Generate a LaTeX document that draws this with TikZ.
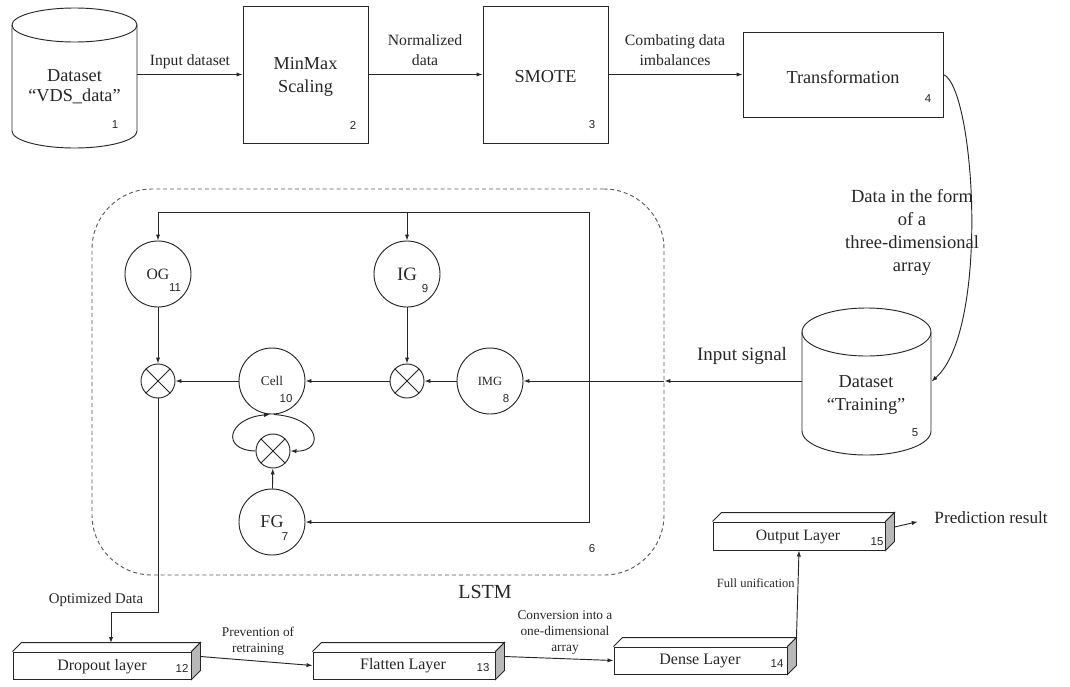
\documentclass[tikz,border=0pt]{standalone}
\usepackage{fontspec}
\setmainfont{Liberation Serif}
\newfontfamily\numfont{Liberation Sans}
\newfontfamily\txtfont{Liberation Serif}
\usetikzlibrary{arrows.meta,fit,calc}
\newcommand\fsz[2]{\txtfont\fontsize{#1}{#2}\selectfont}
\newcommand\nsz[2]{\numfont\fontsize{#1}{#2}\selectfont}
\newcommand\layerdeco[1]{%
  \draw[fill=white] (#1.north west) -- ([shift={(9,-9)}]#1.north west) -- ([shift={(9,-9)}]#1.north east) -- (#1.north east);
  \draw[fill=black!28] (#1.north east) -- ([shift={(9,-9)}]#1.north east) -- ([shift={(9,-9)}]#1.south east) -- (#1.south east) -- cycle;}
\begin{document}
\begin{tikzpicture}[x=0.75pt,y=-0.75pt,line width=0.7pt,color=black!85,
  lbl/.style={inner sep=0,align=center},
  num/.style={font=\nsz{8.6}{10},inner sep=0},
  arr/.style={-{Latex[length=4.5pt,width=3.2pt]}},
  boxn/.style={draw,inner sep=0},
  gate/.style={circle,draw,minimum size=49.5pt,inner sep=0},
  mul/.style={circle,draw,minimum size=25.5pt,inner sep=0}]
\useasboundingbox (0,0) rectangle (1070,686);

% ---- top row ----
\node[fit={(12,8)(137,148)},inner sep=0] (ds1) {};
\draw (12,25) -- (12,131) arc[start angle=180,end angle=360,x radius=46.875pt,y radius=12.75pt] -- (137,25);
\draw (74.5,25) ellipse[x radius=46.875pt,y radius=12.75pt];
\node[lbl,font=\fsz{13.7}{15}] (t1) at (74.5,87) {Dataset\\“VDS\_data”};
\node[num] (n1) at (115,125) {1};

\node[boxn,fit={(243,6)(368,143)}] (mm) {};
\node[lbl,font=\fsz{13.7}{17.25}] (t2) at (305.5,76.5) {MinMax\\Scaling};
\node[num] (n2) at (353,125) {2};

\node[boxn,fit={(483,6)(608,143)}] (sm) {};
\node[lbl,font=\fsz{13.7}{15}] (t3) at (545.5,77) {SMOTE};
\node[num] (n3) at (592,125) {3};

\node[boxn,fit={(743,32)(943,117)}] (tf) {};
\node[lbl,font=\fsz{13.7}{15}] (t4) at (843,77) {Transformation};
\node[num] (n4) at (928,99) {4};

\draw[arr] (mm.west -| ds1.east) -- (mm.west);
\node[lbl,font=\fsz{11.7}{14}] (l1) at (190,62) {Input dataset};
\draw[arr] (mm.east) -- (sm.west);
\node[lbl,font=\fsz{11.8}{15}] (l2) at (425,50) {Normalized\\data};
\draw[arr] (sm.east) -- (tf.west);
\node[lbl,font=\fsz{11.8}{15}] (l3) at (675,50) {Combating data\\imbalances};

% ---- dataset training ----
\node[fit={(802,308)(931,455)},inner sep=0] (ds5) {};
\draw (802,332) -- (802,431) arc[start angle=180,end angle=360,x radius=48.375pt,y radius=18pt] -- (931,332);
\draw (866.5,332) ellipse[x radius=48.375pt,y radius=18pt];
\node[lbl,font=\fsz{13.7}{17.25}] (t5) at (866,394.5) {Dataset\\“Training”};
\node[num] (n5) at (915,433) {5};

\draw[arr] (tf.east) .. controls (975,88) and (990,330) .. (ds5.east);
\node[lbl,font=\fsz{13.9}{17.25}] (l4) at (912,232) {Data in the form\\of a\\three-dimensional\\array};

% ---- LSTM ----
\node[fit={(92,189)(664,575)},draw=black!65,dash pattern=on 3pt off 2.2pt,rounded corners=45pt,inner sep=0] (lstm) {};
\node[lbl,font=\fsz{15}{17}] (tl) at (485,592) {LSTM};
\node[num] (n6) at (592,549) {6};

\node[gate,font=\fsz{11.8}{13}] (og) at (158,274) {OG};
\node[num] (n11) at (175,288) {11};
\node[gate,font=\fsz{14.2}{16}] (ig) at (407,274) {IG};
\node[num] (n9) at (425,289) {9};
\node[gate,font=\fsz{10}{12}] (cell) at (272,381) {Cell};
\node[num] (n10) at (286,399) {10};
\node[gate,font=\fsz{9.4}{11}] (img) at (490,381) {IMG};
\node[num] (n8) at (506,399) {8};
\node[gate,font=\fsz{13.5}{15}] (fg) at (272,522) {FG};
\node[num] (n7) at (285,537) {7};

\node[mul] (m1) at (158,381) {};
\node[mul] (m2) at (407,381) {};
\node[mul] (m3) at (273,451) {};
\foreach \m in {m1,m2,m3}{
  \draw (\m.45) -- (\m.225) (\m.135) -- (\m.315);}

\coordinate (ctop) at (589,212);
\coordinate (cbot) at (589,522);
\draw[arr] (ctop) -- (og.north |- ctop) -- (og.north);
\draw[arr] (ig.north |- ctop) -- (ig.north);
\draw[arr] (ctop) -- (cbot) -- (fg.east);

\coordinate (lin) at (lstm.east |- img.east);
\draw[arr] (ds5.west |- img.east) -- (lin);
\draw[arr] (lin) -- (img.east);
\node[lbl,font=\fsz{14.2}{16}] (l5) at (742,356) {Input signal};

\draw[arr] (ig) -- (m2);
\draw[arr] (img) -- (m2);
\draw[arr] (m2) -- (cell);
\draw[arr] (cell) -- (m1);
\draw[arr] (og) -- (m1);
\draw[arr] (fg) -- (m3);
\draw[arr] (m3.west) .. controls (220,450) and (228,418) .. ([xshift=-1.5pt]cell.south);
\draw[arr] ([xshift=1.5pt]cell.south) .. controls (322,418) and (324,452) .. (m3.east);

% ---- bottom layers ----
\node[boxn,fill=white,fit={(13,652)(191,679)}] (drop) {};
\layerdeco{drop}
\node[lbl,font=\fsz{12}{14}] (tdrop) at (102,667) {Dropout layer};
\node[num] (n12) at (182,668) {12};

\node[boxn,fill=white,fit={(313,652)(495,679)}] (flat) {};
\layerdeco{flat}
\node[lbl,font=\fsz{12}{14}] (tflat) at (403,666) {Flatten Layer};
\node[num] (n13) at (483,668) {13};

\node[boxn,fill=white,fit={(614,647)(787,674)}] (dense) {};
\layerdeco{dense}
\node[lbl,font=\fsz{12}{14}] (tdense) at (700,661) {Dense Layer};
\node[num] (n14) at (777,664) {14};

\node[boxn,fill=white,fit={(713,522)(885,550)}] (outl) {};
\layerdeco{outl}
\node[lbl,font=\fsz{11.8}{14}] (tout) at (798,537) {Output Layer};
\node[num] (n15) at (877,542) {15};

\coordinate (o1) at (158,612);
\coordinate (o2) at (111,612);
\coordinate (o3) at (111,643);
\draw[arr] (m1.south) -- (o1) -- (o2) -- (o3);
\node[lbl,font=\fsz{11.1}{13}] (l6) at (96,600) {Optimized Data};

\draw[arr] ([shift={(9,-9)}]drop.east) -- (flat.west);
\node[lbl,font=\fsz{10}{12}] (l7) at (258,641) {Prevention of\\retraining};
\draw[arr] ([shift={(9,-9)}]flat.east) -- (dense.west);
\node[lbl,font=\fsz{10}{12}] (l8) at (565,633) {Conversion into a\\one-dimensional\\array};
\draw[arr] ([shift={(9,-9)}]dense.north east) -- (outl.south);
\node[lbl,font=\fsz{9.4}{11},anchor=east] (l9) at (795,583) {Full unification};

\node[lbl,font=\fsz{12.9}{15},anchor=west] (pred) at (934,518) {Prediction result};
\draw[arr,shorten >=12.5pt] ([shift={(9,-9)}]outl.east) -- (pred.west);
\end{tikzpicture}
\end{document}
